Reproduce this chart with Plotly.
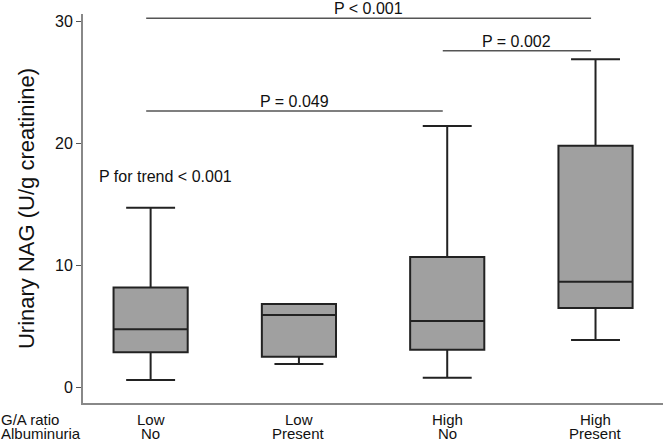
import plotly.graph_objects as go

ga_ratio = ["Low", "Low", "High", "High"]
albuminuria = ["No", "Present", "No", "Present"]
row_titles = ["G/A ratio", "Albuminuria"]
lower_fence = [0.63, 1.94, 0.82, 3.90]
q1 = [2.90, 2.54, 3.11, 6.52]
median = [4.78, 5.95, 5.46, 8.67]
q3 = [8.21, 6.85, 10.70, 19.80]
upper_fence = [14.73, 6.85, 21.42, 26.87]

# comparison brackets: (from index, to index, y value, label)
brackets = [
    (0, 3, 30.23, "P < 0.001"),
    (2, 3, 27.58, "P = 0.002"),
    (0, 2, 22.64, "P = 0.049"),
]
trend_label = "P for trend < 0.001"
yticks = [0, 10, 20, 30]

FONT = "Liberation Sans, Arial, sans-serif"
TXT = "#111111"
xpos = list(range(len(ga_ratio)))
PLOT_H = 389  # plot area height in px

fig = go.Figure()
for i in xpos:
    fig.add_trace(go.Box(
        x=[i], q1=[q1[i]], median=[median[i]], q3=[q3[i]],
        lowerfence=[lower_fence[i]], upperfence=[upper_fence[i]],
        width=0.5, whiskerwidth=0.66,
        fillcolor="#a0a0a0", line=dict(color="#222222", width=2),
        boxpoints=False, showlegend=False, hoverinfo="skip",
    ))

for a, b, y, label in brackets:
    fig.add_shape(type="line", x0=a - 0.03, x1=b - 0.03, y0=y, y1=y,
                  line=dict(color="#555555", width=1.5), layer="above")
    fig.add_annotation(x=(a + b) / 2 - 0.03, y=y, text=label, showarrow=False,
                       yanchor="bottom", yshift=-1,
                       font=dict(family=FONT, size=16, color=TXT))

fig.add_annotation(x=-0.36, y=17.3, xanchor="left", text=trend_label, showarrow=False,
                   font=dict(family=FONT, size=16, color=TXT))

# two-row category labels under the axis
row_y = [-16 / PLOT_H, -30.5 / PLOT_H]
for r, (title, labels) in enumerate(zip(row_titles, [ga_ratio, albuminuria])):
    fig.add_annotation(xref="paper", yref="paper", x=-83 / 580, y=row_y[r],
                       xanchor="left", yanchor="middle", text=title, showarrow=False,
                       borderpad=0, font=dict(family=FONT, size=15, color=TXT))
    for i in xpos:
        fig.add_annotation(x=i, yref="paper", y=row_y[r], xanchor="center",
                           yanchor="middle", text=labels[i], showarrow=False,
                           borderpad=0, font=dict(family=FONT, size=15, color=TXT))

fig.update_layout(
    width=666, height=442,
    margin=dict(l=83, r=3, t=14, b=39, autoexpand=False),
    paper_bgcolor="white", plot_bgcolor="white",
    font=dict(family=FONT, size=16, color=TXT),
    xaxis=dict(range=[-0.456, 3.455], tickvals=xpos, showticklabels=False,
               showline=True, linecolor="#888888", linewidth=2,
               ticks="", showgrid=False, zeroline=False, automargin=False),
    yaxis=dict(range=[-1.25, 30.58], tickvals=yticks,
               showline=True, linecolor="#888888", linewidth=2,
               ticks="outside", ticklen=5, tickcolor="#555555",
               showgrid=False, zeroline=False, automargin=False,
               tickfont=dict(family=FONT, size=16, color=TXT),
               title=dict(text="Urinary NAG (U/g creatinine)", standoff=14,
                          font=dict(family=FONT, size=22, color=TXT))),
)

fig.write_html("out.html", config={"displayModeBar": False},
               post_script="document.body.style.margin='0';document.body.style.overflow='hidden';")
